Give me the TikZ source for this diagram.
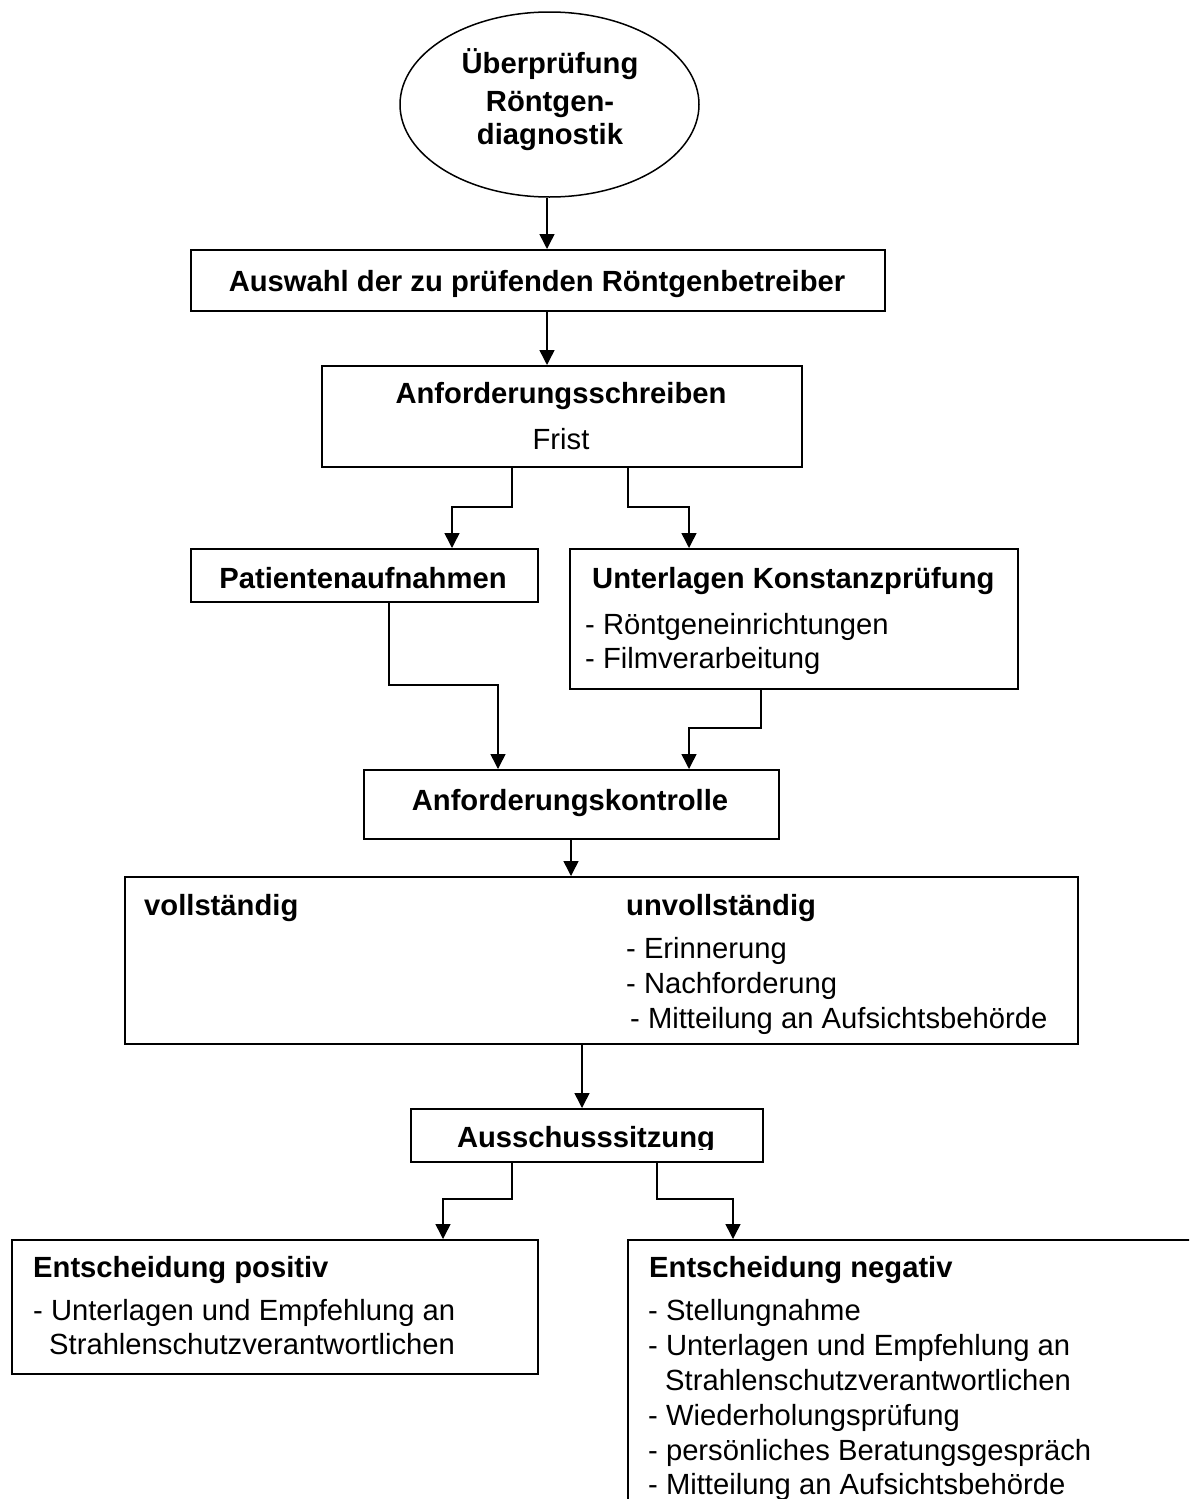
\documentclass[tikz,border=0pt]{standalone}
\usepackage{fontspec}
\setmainfont{Liberation Sans}
\usetikzlibrary{arrows.meta,shapes.geometric}
\tikzset{
  box/.style={draw, line width=1.5pt, anchor=north west, inner sep=0pt},
  arr/.style={line width=1.5pt, -{Triangle[width=15pt,length=15pt]}},
  txt/.style={anchor=base west, inner sep=0pt, font=\fontsize{29.2}{35}\selectfont},
  btxt/.style={anchor=base west, inner sep=0pt, font=\fontsize{29.2}{35}\selectfont\bfseries},
  ctxt/.style={anchor=base, inner sep=0pt, font=\fontsize{29.2}{35}\selectfont},
  cbtxt/.style={anchor=base, inner sep=0pt, font=\fontsize{29.2}{35}\selectfont\bfseries},
}
\begin{document}
\begin{tikzpicture}[x=1pt,y=-1pt]
\useasboundingbox (0,0) rectangle (1189,1499);
\clip (0,0) rectangle (1189,1499);
\fill[white] (0,0) rectangle (1189,1499);

% ellipse
\node[draw, ellipse, line width=1.5pt, minimum width=299pt, minimum height=185pt, inner sep=0pt] (e) at (549.5,104.5) {};
\node[cbtxt] (e1) at (550,73) {Überprüfung};
\node[cbtxt] (e2) at (550,111) {Röntgen-};
\node[cbtxt] (e3) at (550,144) {diagnostik};

% boxes
\node[box, minimum width=694pt, minimum height=61pt] (b1) at (190,249) {};
\node[cbtxt] (t1) at (537,291) {Auswahl der zu prüfenden Röntgenbetreiber};

\node[box, minimum width=480pt, minimum height=101pt] (b2) at (321,365) {};
\node[cbtxt] (t2) at (561,403) {Anforderungsschreiben};
\node[ctxt] (t2a) at (561,449) {Frist};

\node[box, minimum width=347pt, minimum height=53pt] (b3) at (190,548) {};
\node[cbtxt] (t3) at (363,588) {Patientenaufnahmen};

\node[box, minimum width=448pt, minimum height=140pt] (b4) at (569,548) {};
\node[btxt] (t4) at (592,588) {Unterlagen Konstanzprüfung};
\node[txt] (t4a) at (585,634) {- Röntgeneinrichtungen};
\node[txt] (t4b) at (585,668) {- Filmverarbeitung};

\node[box, minimum width=415pt, minimum height=69pt] (b5) at (363,769) {};
\node[cbtxt] (t5) at (570,810) {Anforderungskontrolle};

\node[box, minimum width=953pt, minimum height=167pt] (b6) at (124,876) {};
\node[btxt] (t6) at (144,915) {vollständig};
\node[btxt] (t6b) at (626,915) {unvollständig};
\node[txt] (t6c) at (626,958) {- Erinnerung};
\node[txt] (t6d) at (626,993) {- Nachforderung};
\node[txt] (t6e) at (630,1028) {- Mitteilung an Aufsichtsbehörde};

\node[box, minimum width=352pt, minimum height=53pt] (b7) at (410,1108) {};
\begin{scope}
  \clip (400,1100) rectangle (770,1149);
  \node[cbtxt] (t7) at (586,1147) {Ausschusssitzung};
\end{scope}

\node[box, minimum width=526pt, minimum height=134pt] (b8) at (11,1239) {};
\node[btxt] (t8) at (33,1277) {Entscheidung positiv};
\node[txt] (t8a) at (33,1320) {- Unterlagen und Empfehlung an};
\node[txt] (t8b) at (49,1354) {Strahlenschutzverantwortlichen};

\node[box, minimum width=650pt, minimum height=340pt] (b9) at (627,1239) {};
\node[btxt] (t9) at (649,1277) {Entscheidung negativ};
\node[txt] (t9a) at (648,1320) {- Stellungnahme};
\node[txt] (t9b) at (648,1355) {- Unterlagen und Empfehlung an};
\node[txt] (t9c) at (665,1390) {Strahlenschutzverantwortlichen};
\node[txt] (t9d) at (648,1425) {- Wiederholungsprüfung};
\node[txt] (t9e) at (648,1460) {- persönliches Beratungsgespräch};
\node[txt] (t9f) at (648,1494) {- Mitteilung an Aufsichtsbehörde};

% connector helper coordinates
\coordinate (c0) at (547,0);
\coordinate (k1) at (512,507);
\coordinate (k2) at (452,507);
\coordinate (k3) at (628,507);
\coordinate (k4) at (689,507);
\coordinate (k5) at (389,685);
\coordinate (k6) at (498,685);
\coordinate (k7) at (761,728);
\coordinate (k8) at (689,728);
\coordinate (c9) at (571,0);
\coordinate (c10) at (582,0);
\coordinate (k11) at (512,1199);
\coordinate (k12) at (443,1199);
\coordinate (k13) at (657,1199);
\coordinate (k14) at (733,1199);

% connectors
\draw[arr] (e.south -| c0) -- (b1.north -| c0);
\draw[arr] (b1.south -| c0) -- (b2.north -| c0);
\draw[arr] (b2.south -| k1) -- (k1) -- (k2) -- (b3.north -| k2);
\draw[arr] (b2.south -| k3) -- (k3) -- (k4) -- (b4.north -| k4);
\draw[arr] (b3.south -| k5) -- (k5) -- (k6) -- (b5.north -| k6);
\draw[arr] (b4.south -| k7) -- (k7) -- (k8) -- (b5.north -| k8);
\draw[arr] (b5.south -| c9) -- (b6.north -| c9);
\draw[arr] (b6.south -| c10) -- (b7.north -| c10);
\draw[arr] (b7.south -| k11) -- (k11) -- (k12) -- (b8.north -| k12);
\draw[arr] (b7.south -| k13) -- (k13) -- (k14) -- (b9.north -| k14);
\end{tikzpicture}
\end{document}
